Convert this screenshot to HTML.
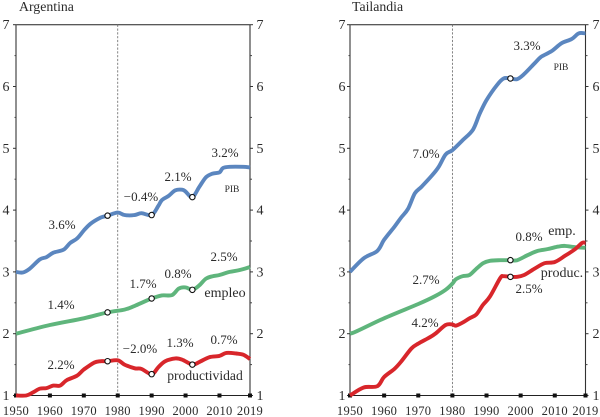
<!DOCTYPE html>
<html lang="es">
<head>
<meta charset="utf-8">
<title>Argentina y Tailandia</title>
<style>
html,body{margin:0;padding:0;background:#fff;}
svg{display:block;filter:blur(0.25px);}
text{font-family:"Liberation Serif",serif;fill:#2b2b2b;}
</style>
</head>
<body>
<svg id="chart" xmlns="http://www.w3.org/2000/svg" width="600" height="417" viewBox="0 0 600 417"></svg>
<script>
var yTickValues = [1, 2, 3, 4, 5, 6, 7];
var yMinorValues = [1.5, 2.5, 3.5, 4.5, 5.5, 6.5];
var xTickValues = [1950, 1960, 1970, 1980, 1990, 2000, 2010, 2019];

var argPibYears = [1950,1952,1954,1957,1959,1961,1964,1966,1968,1970,1972,1975,1977,1980,1982,1985,1987,1990,1992,1993,1995,1997,1999,2000,2002,2004,2006,2008,2010,2011,2013,2017,2019];
var argPibValues = [3.0,2.99,3.05,3.2,3.24,3.31,3.36,3.47,3.54,3.67,3.78,3.88,3.91,3.96,3.92,3.92,3.95,3.92,4.07,4.16,4.23,4.32,4.33,4.30,4.21,4.37,4.53,4.59,4.61,4.68,4.70,4.70,4.69];
var argEmpYears = [1950,1960,1970,1977,1982,1985,1990,1993,1996,1998,2000,2002,2004,2006,2008,2010,2013,2016,2019];
var argEmpValues = [2.0,2.14,2.25,2.345,2.39,2.45,2.57,2.62,2.625,2.73,2.75,2.71,2.78,2.89,2.93,2.95,3.0,3.03,3.08];
var argProdYears = [1950,1953,1955,1957,1959,1961,1963,1965,1968,1970,1973,1975,1977,1980,1982,1985,1987,1990,1992,1994,1997,1999,2002,2004,2007,2010,2012,2015,2017,2019];
var argProdValues = [1.0,1.0,1.05,1.11,1.12,1.16,1.16,1.25,1.32,1.42,1.53,1.555,1.555,1.57,1.5,1.44,1.43,1.345,1.46,1.555,1.6,1.58,1.5,1.54,1.62,1.64,1.69,1.68,1.66,1.59];
var argPibMarkerYears = [1977,1990,2002];
var argPibMarkerValues = [3.91,3.92,4.21];
var argEmpMarkerYears = [1977,1990,2002];
var argEmpMarkerValues = [2.345,2.57,2.71];
var argProdMarkerYears = [1977,1990,2002];
var argProdMarkerValues = [1.555,1.345,1.5];

var thaPibYears = [1950,1954,1958,1960,1963,1965,1967,1969,1971,1974,1976,1978,1980,1983,1986,1988,1990,1993,1995,1997,1999,2001,2004,2006,2009,2012,2015,2017,2019];
var thaPibValues = [3.0,3.22,3.34,3.52,3.73,3.88,4.02,4.27,4.38,4.56,4.7,4.9,4.97,5.13,5.3,5.56,5.78,6.02,6.13,6.13,6.12,6.2,6.37,6.48,6.57,6.7,6.77,6.86,6.86];
var thaEmpYears = [1950,1952,1960,1970,1975,1978,1980,1981,1983,1985,1987,1989,1991,1994,1997,1999,2002,2005,2008,2011,2013,2016,2019];
var thaEmpValues = [2.0,2.04,2.25,2.48,2.61,2.71,2.81,2.88,2.93,2.95,3.05,3.14,3.18,3.19,3.19,3.19,3.27,3.34,3.37,3.41,3.42,3.4,3.39];
var thaProdYears = [1950,1954,1958,1960,1963,1965,1968,1970,1973,1975,1978,1980,1981,1983,1985,1987,1989,1991,1994,1995,1997,1999,2001,2004,2007,2010,2013,2016,2018,2019];
var thaProdValues = [1.0,1.13,1.15,1.3,1.43,1.55,1.76,1.84,1.93,2.0,2.14,2.15,2.13,2.18,2.25,2.31,2.47,2.6,2.9,2.93,2.92,2.92,2.95,3.05,3.14,3.16,3.26,3.37,3.47,3.47];
var thaPibMarkerYears = [1997];
var thaPibMarkerValues = [6.13];
var thaEmpMarkerYears = [1997];
var thaEmpMarkerValues = [3.19];
var thaProdMarkerYears = [1997];
var thaProdMarkerValues = [2.92];

var NS = 'http://www.w3.org/2000/svg';
var svg = document.getElementById('chart');
var BLUE = '#5b86bf', GREEN = '#5fb57c', RED = '#d8262b';

function add(tag, attrs, parent, txt) {
  var e = document.createElementNS(NS, tag);
  for (var k in attrs) { e.setAttribute(k, attrs[k]); }
  if (txt !== undefined) { e.textContent = txt; }
  (parent || svg).appendChild(e);
  return e;
}

function makeScales(left, right) {
  return {
    left: left,
    right: right,
    x: function (yr) { return left + (yr - 1950) * (right - left) / 69; },
    y: function (v) { return 395.5 - (v - 1) * 61.8; }
  };
}

function drawAxes(s, g, leftLabelX, rightLabelX) {
  var top = s.y(7), bottom = s.y(1);
  var frameTop = add('line', {x1: s.left, x2: s.right, y1: top, y2: top, stroke: '#222', 'stroke-width': 1}, g);
  
  
  var frameBottom = add('line', {x1: s.left, x2: s.right, y1: bottom, y2: bottom, stroke: '#222', 'stroke-width': 1}, g);
  
  
  var frameLeft = add('line', {x1: s.left, x2: s.left, y1: top, y2: bottom, stroke: '#555', 'stroke-width': 1.3}, g);
  
  
  var frameRight = add('line', {x1: s.right, x2: s.right, y1: top, y2: bottom, stroke: '#333', 'stroke-width': 1.1}, g);
  
  

  var ref = add('line', {x1: s.x(1980), x2: s.x(1980), y1: top, y2: bottom, stroke: '#666', 'stroke-width': 0.8, 'stroke-dasharray': '2.2 1.6'}, g);
  
  

  yTickValues.forEach(function (v) {
    var py = s.y(v);
    add('line', {x1: s.left - 3, x2: s.left, y1: py, y2: py, stroke: '#333', 'stroke-width': 1}, g);
    add('line', {x1: s.right, x2: s.right + 3, y1: py, y2: py, stroke: '#333', 'stroke-width': 1}, g);
    var a = add('text', {x: leftLabelX, y: py + 4.5, 'text-anchor': 'middle', 'font-size': 14}, g, String(v));
    
    
    var b = add('text', {x: rightLabelX, y: py + 4.5, 'text-anchor': 'middle', 'font-size': 14}, g, String(v));
    
    
  });
  yMinorValues.forEach(function (v) {
    var py = s.y(v);
    add('line', {x1: s.left - 1.5, x2: s.left, y1: py, y2: py, stroke: '#444', 'stroke-width': 1}, g);
    add('line', {x1: s.right, x2: s.right + 2, y1: py, y2: py, stroke: '#444', 'stroke-width': 1}, g);
  });
  xTickValues.forEach(function (yr) {
    var px = s.x(yr);
    var m = add('rect', {x: px - 2, y: bottom - 2, width: 4, height: 4, fill: '#111'}, g);
    
    
    var t = add('text', {x: px, y: 415, 'text-anchor': 'middle', 'font-size': 12.5, 'letter-spacing': '0.3'}, g, String(yr));
    
    
  });
}

function drawSeries(s, g, years, values, color, name) {
  var px = years.map(s.x);
  var py = values.map(s.y);
  var d = 'M' + px[0].toFixed(1) + ' ' + py[0].toFixed(1);
  for (var i = 0; i < px.length - 1; i++) {
    var a = Math.max(i - 1, 0), b = Math.min(i + 2, px.length - 1);
    d += 'C' + (px[i] + (px[i + 1] - px[a]) / 6).toFixed(1) + ' ' + (py[i] + (py[i + 1] - py[a]) / 6).toFixed(1) +
         ' ' + (px[i + 1] - (px[b] - px[i]) / 6).toFixed(1) + ' ' + (py[i + 1] - (py[b] - py[i]) / 6).toFixed(1) +
         ' ' + px[i + 1].toFixed(1) + ' ' + py[i + 1].toFixed(1);
  }
  var l = add('path', {d: d, fill: 'none', stroke: color, 'stroke-width': 3.9, 'stroke-linejoin': 'round', 'stroke-linecap': 'butt'}, g);
  
  
}

function drawMarkers(s, g, years, values) {
  years.forEach(function (yr, i) {
    var c = add('circle', {cx: s.x(yr), cy: s.y(values[i]), r: 2.7, fill: '#fff', stroke: '#111', 'stroke-width': 1.1}, g);
    
    
  });
}

function label(g, x, y, txt, size) {
  var t = add('text', {x: x, y: y, 'text-anchor': 'middle', 'font-size': size || 13}, g, txt);
  
  
}

/* Argentina */
var gA = add('g', {});


var sA = makeScales(16, 250);
drawAxes(sA, gA, 6, 260);
drawSeries(sA, gA, argPibYears, argPibValues, BLUE, 'argentina-pib-line');
drawSeries(sA, gA, argEmpYears, argEmpValues, GREEN, 'argentina-empleo-line');
drawSeries(sA, gA, argProdYears, argProdValues, RED, 'argentina-productividad-line');
drawMarkers(sA, gA, argPibMarkerYears, argPibMarkerValues);
drawMarkers(sA, gA, argEmpMarkerYears, argEmpMarkerValues);
drawMarkers(sA, gA, argProdMarkerYears, argProdMarkerValues);
var tA = add('text', {x: 19, y: 11, 'font-size': 13.8}, gA, 'Argentina');


label(gA, 225, 157, '3.2%');
label(gA, 178, 181, '2.1%');
label(gA, 141, 201, '\u22120.4%');
label(gA, 232, 192, 'PIB', 9.5);
label(gA, 62, 229, '3.6%');
label(gA, 224, 261, '2.5%');
label(gA, 178, 278, '0.8%');
label(gA, 143, 288, '1.7%');
label(gA, 225, 297, 'empleo', 14);
label(gA, 61, 309, '1.4%');
label(gA, 224, 344, '0.7%');
label(gA, 180, 347, '1.3%');
label(gA, 140, 353, '\u22122.0%');
label(gA, 61, 369, '2.2%');
label(gA, 205, 380, 'productividad', 13.6);

/* Tailandia */
var gT = add('g', {});


var sT = makeScales(350, 585.5);
drawAxes(sT, gT, 342, 596);
drawSeries(sT, gT, thaPibYears, thaPibValues, BLUE, 'tailandia-pib-line');
drawSeries(sT, gT, thaEmpYears, thaEmpValues, GREEN, 'tailandia-empleo-line');
drawSeries(sT, gT, thaProdYears, thaProdValues, RED, 'tailandia-productividad-line');
drawMarkers(sT, gT, thaPibMarkerYears, thaPibMarkerValues);
drawMarkers(sT, gT, thaEmpMarkerYears, thaEmpMarkerValues);
drawMarkers(sT, gT, thaProdMarkerYears, thaProdMarkerValues);
var tT = add('text', {x: 352, y: 11, 'font-size': 13.8}, gT, 'Tailandia');


label(gT, 527, 50, '3.3%');
label(gT, 561, 70, 'PIB', 9.5);
label(gT, 426, 158, '7.0%');
label(gT, 562, 235, 'emp.', 14);
label(gT, 529, 241, '0.8%');
label(gT, 562, 277, 'produc.', 14);
label(gT, 426, 284, '2.7%');
label(gT, 529, 293, '2.5%');
label(gT, 425, 327, '4.2%');
</script>
</body>
</html>
